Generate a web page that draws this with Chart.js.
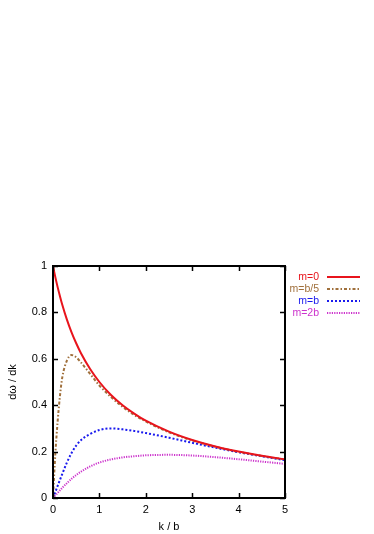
<!DOCTYPE html>
<html>
<head>
<meta charset="utf-8">
<script src="https://cdn.jsdelivr.net/npm/chart.js@4"></script>
<style>
html,body{margin:0;padding:0;background:#fff;}
#wrap{width:374px;height:534px;}
</style>
</head>
<body>
<div id="wrap"><canvas id="c" width="374" height="534"></canvas></div>
<script>
const kValues = [0, 0.02, 0.05, 0.1, 0.15, 0.2, 0.3, 0.4, 0.5, 0.6, 0.8, 1, 1.25, 1.5, 1.75, 2, 2.5, 3, 3.5, 4, 4.5, 5];
const m0 =   [1, 0.98, 0.952, 0.909, 0.87, 0.833, 0.769, 0.714, 0.667, 0.625, 0.556, 0.5, 0.444, 0.4, 0.364, 0.333, 0.286, 0.25, 0.222, 0.2, 0.182, 0.167];
const mb5 =  [0, 0.08, 0.19, 0.33, 0.44, 0.52, 0.592, 0.616, 0.607, 0.585, 0.535, 0.485, 0.435, 0.393, 0.358, 0.33, 0.283, 0.248, 0.221, 0.199, 0.181, 0.166];
const mb =   [0, 0.01, 0.026, 0.052, 0.078, 0.104, 0.153, 0.194, 0.226, 0.249, 0.276, 0.293, 0.3, 0.296, 0.289, 0.28, 0.26, 0.238, 0.217, 0.197, 0.18, 0.163];
const m2b =  [0, 0.004, 0.011, 0.022, 0.033, 0.044, 0.064, 0.083, 0.099, 0.113, 0.136, 0.153, 0.166, 0.175, 0.18, 0.184, 0.186, 0.183, 0.176, 0.167, 0.157, 0.147];
const seriesNames = ['m=0', 'm=b/5', 'm=b', 'm=2b'];
const xTicks = [0, 1, 2, 3, 4, 5];
const yTicks = [0, 0.2, 0.4, 0.6, 0.8, 1];

const colors = ['#e8141c', '#a0703c', '#1a1aee', '#cc33cc'];
const dashes = [[], [3, 2, 1.5, 2], [2, 2], [1.2, 1.2]];
const seriesData = [m0, mb5, mb, m2b];

const datasets = seriesData.map((arr, i) => ({
  label: seriesNames[i],
  data: kValues.map((k, j) => ({x: k, y: arr[j]})),
  borderColor: colors[i],
  borderWidth: 2,
  borderDash: dashes[i],
  pointRadius: 0,
  fill: false,
  cubicInterpolationMode: 'monotone',
  tension: 0.4
}));

const framePlugin = {
  id: 'frame',
  afterDatasetsDraw(chart) {
    const ctx = chart.ctx;
    const a = chart.chartArea;
    const xs = chart.scales.x, ys = chart.scales.y;
    ctx.save();
    ctx.strokeStyle = '#000';
    ctx.lineWidth = 2;
    ctx.setLineDash([]);
    ctx.strokeRect(a.left, a.top, a.right - a.left, a.bottom - a.top);
    ctx.lineWidth = 1.5;
    const L = 5;
    ctx.beginPath();
    xTicks.forEach(v => {
      const px = Math.round(xs.getPixelForValue(v)) + 0.5;
      ctx.moveTo(px, a.bottom); ctx.lineTo(px, a.bottom - L);
      ctx.moveTo(px, a.top); ctx.lineTo(px, a.top + L);
    });
    yTicks.forEach(v => {
      const py = Math.round(ys.getPixelForValue(v)) + 0.5;
      ctx.moveTo(a.left, py); ctx.lineTo(a.left + L, py);
      ctx.moveTo(a.right, py); ctx.lineTo(a.right - L, py);
    });
    ctx.stroke();
    // legend
    ctx.font = '10.5px "Liberation Sans", Arial, sans-serif';
    ctx.textAlign = 'right';
    ctx.textBaseline = 'middle';
    const ly = [277, 289, 301, 313];
    seriesNames.forEach((n, i) => {
      ctx.fillStyle = colors[i];
      ctx.fillText(n, 319, ly[i]);
      ctx.strokeStyle = colors[i];
      ctx.lineWidth = 2;
      ctx.setLineDash(dashes[i]);
      ctx.beginPath();
      ctx.moveTo(327, ly[i]); ctx.lineTo(360, ly[i]);
      ctx.stroke();
    });
    ctx.restore();
  }
};

new Chart(document.getElementById('c'), {
  type: 'line',
  data: {datasets},
  options: {
    responsive: false,
    animation: false,
    devicePixelRatio: 1,
    layout: {padding: {top: 266, right: 89, left: 0, bottom: 0}},
    plugins: {legend: {display: false}, tooltip: {enabled: false}},
    scales: {
      x: {
        type: 'linear', min: 0, max: 5,
        afterBuildTicks: s => { s.ticks = xTicks.map(v => ({value: v})); },
        afterFit: s => { s.height = 36; },
        grid: {display: false, drawTicks: false},
        border: {display: false},
        ticks: {color: '#000', padding: 5, font: {family: '"Liberation Sans", Arial, sans-serif', size: 11}, maxRotation: 0,
          callback: v => String(v)},
        title: {display: true, text: 'k / b', color: '#000', padding: {top: 3, bottom: 0},
          font: {family: '"Liberation Sans", Arial, sans-serif', size: 11}}
      },
      y: {
        type: 'linear', min: 0, max: 1,
        afterBuildTicks: s => { s.ticks = yTicks.map(v => ({value: v})); },
        afterFit: s => { s.width = 53; },
        grid: {display: false, drawTicks: false},
        border: {display: false},
        ticks: {color: '#000', padding: 6, font: {family: '"Liberation Sans", Arial, sans-serif', size: 11},
          callback: v => String(Math.round(v * 10) / 10)},
        title: {display: true, text: 'dω / dk', color: '#000', padding: {top: 6, bottom: 0},
          font: {family: '"Liberation Sans", Arial, sans-serif', size: 11}}
      }
    }
  },
  plugins: [framePlugin]
});
</script>
</body>
</html>
